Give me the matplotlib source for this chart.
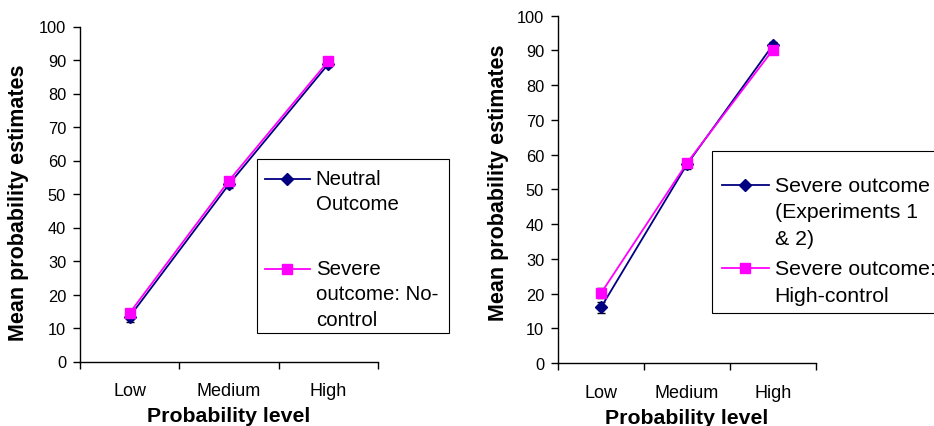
import matplotlib
matplotlib.use("Agg")
import matplotlib.pyplot as plt
import numpy as np
from matplotlib.legend_handler import HandlerLine2D
from matplotlib.lines import Line2D
from matplotlib.patches import Rectangle

plt.rcParams['font.family'] = ['Liberation Sans', 'DejaVu Sans']

categories = ["Low", "Medium", "High"]

# Left panel
neutral = [13.4, 52.9, 88.8]
neutral_err = [1.5, 1.0, 1.0]
severe_noctrl = [14.5, 54.0, 89.7]
severe_noctrl_err = [1.2, 1.0, 0.8]

# Right panel
severe_exp = [16.0, 57.2, 91.6]
severe_exp_err = [1.5, 1.2, 0.8]
severe_highctrl = [20.1, 57.6, 90.2]
severe_highctrl_err = [1.4, 1.0, 0.9]

left_labels = ["Neutral\nOutcome", "Severe\noutcome: No-\ncontrol"]
right_labels = ["Severe outcome\n(Experiments 1\n& 2)", "Severe outcome:\nHigh-control"]

NAVY = "#000080"
MAGENTA = "#FF00FF"
W, H = 934, 427


class TopHandler(HandlerLine2D):
    """Place the legend sample on the first line of a multi-line label."""
    def __init__(self, nlines, spacing_pt, **kw):
        super().__init__(**kw)
        self.nlines = nlines
        self.spacing_pt = spacing_pt

    def create_artists(self, legend, orig_handle, xdescent, ydescent, width,
                       height, fontsize, trans):
        arts = super().create_artists(legend, orig_handle, xdescent, ydescent,
                                      width, height, fontsize, trans)
        shift = (self.nlines - 1) / 2 * self.spacing_pt
        for a in arts:
            a.set_ydata(np.asarray(a.get_ydata()) + shift)
        return arts


fig = plt.figure(figsize=(W / 100, H / 100), dpi=100)
ax1 = fig.add_axes([80 / W, 1 - 362.5 / H, 298 / W, 335 / H])
ax2 = fig.add_axes([558 / W, 1 - 364 / H, 258 / W, 347.3 / H])

x = np.arange(len(categories)) + 0.5


def draw(ax, s1, e1, s2, e2, ylab_xy):
    l1 = ax.errorbar(x, s1, yerr=e1, color=NAVY, marker="D", markersize=6.5,
                     lw=1.3, ecolor="black", elinewidth=1, capsize=3,
                     capthick=1, zorder=3)
    l2 = ax.errorbar(x, s2, yerr=e2, color=MAGENTA, marker="s", markersize=7,
                     lw=1.3, ecolor="black", elinewidth=1, capsize=3,
                     capthick=1, zorder=4)
    ax.set_xlim(0, 3)
    ax.set_ylim(0, 100)
    ax.set_yticks(np.arange(0, 101, 10))
    ax.set_xticks([0, 1, 2, 3])
    ax.set_xticklabels([])
    ax.set_xticks(x, minor=True)
    ax.set_xticklabels(categories, minor=True)
    ax.tick_params(axis="x", which="major", direction="out", length=5, width=1)
    ax.tick_params(axis="x", which="minor", length=0, pad=15, labelsize=13)
    ax.tick_params(axis="y", direction="out", length=5, width=1, pad=5,
                   labelsize=11.8)
    for s in ["top", "right"]:
        ax.spines[s].set_visible(False)
    for s in ["left", "bottom"]:
        ax.spines[s].set_linewidth(1)
    ax.set_xlabel("Probability level", fontsize=15.3, fontweight="bold",
                  labelpad=5)
    ax.set_ylabel("Mean probability estimates", fontsize=15.5,
                  fontweight="bold")
    ax.yaxis.set_label_coords(*ylab_xy)
    return l1, l2


draw(ax1, neutral, neutral_err, severe_noctrl, severe_noctrl_err,
     ((29 - 80) / 298, (362.5 - 203) / 335))
draw(ax2, severe_exp, severe_exp_err, severe_highctrl, severe_highctrl_err,
     ((509 - 558) / 258, (364 - 183) / 347.3))

# Legend sample handles (line + marker only)
lh1 = Line2D([], [], color=NAVY, marker="D", markersize=6, lw=1.3)
lh2 = Line2D([], [], color=MAGENTA, marker="s", markersize=7, lw=1.3)


def make_legend(labels, fs, ls_px, linesp, box, anchor, labelspacing, nl):
    spacing_pt = ls_px * 0.72
    leg = fig.legend([lh1, lh2], labels, loc="upper left",
                     bbox_to_anchor=(anchor[0] / W, 1 - anchor[1] / H),
                     bbox_transform=fig.transFigure, fontsize=fs,
                     frameon=False, borderpad=0, labelspacing=labelspacing,
                     handlelength=2.2, handletextpad=0.28, borderaxespad=0,
                     handler_map={lh1: TopHandler(nl[0], spacing_pt),
                                  lh2: TopHandler(nl[1], spacing_pt)})
    for t in leg.get_texts():
        t.set_linespacing(linesp)
    leg.set_zorder(5)
    x0, y0, x1, y1 = box
    fig.add_artist(Rectangle((x0 / W, 1 - y1 / H), (x1 - x0) / W,
                             (y1 - y0) / H, transform=fig.transFigure,
                             facecolor="white", edgecolor="black", lw=0.8,
                             zorder=2))
    return leg


make_legend(left_labels, 14.7, 25, 1.415, (257, 160, 449, 334), (265, 170),
            2.25, (2, 3))
make_legend(right_labels, 15.3, 27, 1.5, (712, 152, 945, 314), (722, 177),
            0.52, (3, 2))

fig.savefig("out.png", dpi=100)
